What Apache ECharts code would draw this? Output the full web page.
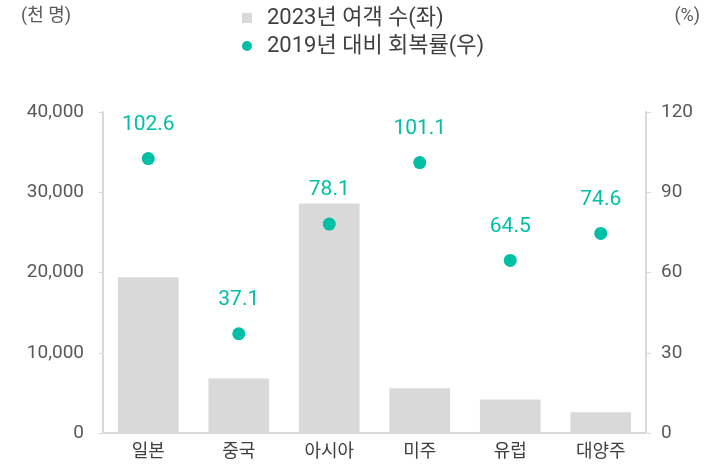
<!DOCTYPE html>
<html><head><meta charset="utf-8">
<script src="https://cdn.jsdelivr.net/npm/echarts@6/dist/echarts.min.js"></script>
<style>html,body{margin:0;padding:0;background:#fff}#c{width:715px;height:469px}</style>
</head><body><div id="c"></div>
<script>
const categories = ['일본','중국','아시아','미주','유럽','대양주'];
const travelers2023 = [19400, 6800, 28600, 5580, 4170, 2600];
const recoveryRate = [102.6, 37.1, 78.1, 101.1, 64.5, 74.6];
const leftTicks = [0, 10000, 20000, 30000, 40000];
const rightTicks = [0, 30, 60, 90, 120];
const FONT = "Roboto, 'Noto Sans CJK KR', sans-serif";
const chart = echarts.init(document.getElementById('c'));
chart.setOption({
  animation: false,
  textStyle: {fontFamily: FONT},
  grid: {left: 103, right: 69, top: 112, bottom: 36},
  legend: {
    orient: 'vertical', left: 242, top: 7, itemGap: 6,
    itemWidth: 10, itemHeight: 10, padding: 0,
    textStyle: {fontSize: 22, color: '#404040', fontFamily: FONT, padding: [0, 0, 0, 10]},
    data: [
      {name: '2023년 여객 수(좌)', icon: 'rect', itemStyle: {color: '#d9d9d9'}},
      {name: '2019년 대비 회복률(우)', icon: 'circle'}
    ]
  },
  graphic: [
    {type: 'text', left: 21, top: 8, style: {text: '(천 명)', fontSize: 18, fill: '#595959', fontFamily: FONT}},
    {type: 'text', right: 15, top: 8, style: {text: '(%)', fontSize: 18, fill: '#595959', fontFamily: FONT}}
  ],
  xAxis: {
    type: 'category', data: categories,
    axisLine: {lineStyle: {color: '#d9d9d9', width: 2}},
    axisTick: {show: false},
    axisLabel: {fontSize: 18, color: '#404040', margin: 11}
  },
  yAxis: [
    {type: 'value', min: 0, max: 40000, interval: 10000, position: 'left',
     axisLine: {show: true, lineStyle: {color: '#d9d9d9', width: 2}},
     axisTick: {show: true, length: 4, lineStyle: {color: '#d9d9d9'}},
     splitLine: {show: false},
     axisLabel: {fontSize: 19, color: '#595959', margin: 19,
       formatter: v => v.toLocaleString('en-US')}},
    {type: 'value', min: 0, max: 120, interval: 30, position: 'right',
     axisLine: {show: true, lineStyle: {color: '#d9d9d9', width: 2}},
     axisTick: {show: true, length: 5, lineStyle: {color: '#d9d9d9'}},
     splitLine: {show: false},
     axisLabel: {fontSize: 19, color: '#595959', margin: 15}}
  ],
  series: [
    {name: '2023년 여객 수(좌)', type: 'bar', data: travelers2023, barWidth: '67%',
     itemStyle: {color: '#d9d9d9'}, yAxisIndex: 0},
    {name: '2019년 대비 회복률(우)', type: 'scatter', data: recoveryRate, yAxisIndex: 1,
     symbolSize: 13, itemStyle: {color: '#00bfa5', opacity: 1},
     label: {show: true, position: 'top', distance: 17, fontSize: 21, color: '#00bfa5',
       formatter: p => p.value.toFixed(1)}}
  ]
});
</script></body></html>
